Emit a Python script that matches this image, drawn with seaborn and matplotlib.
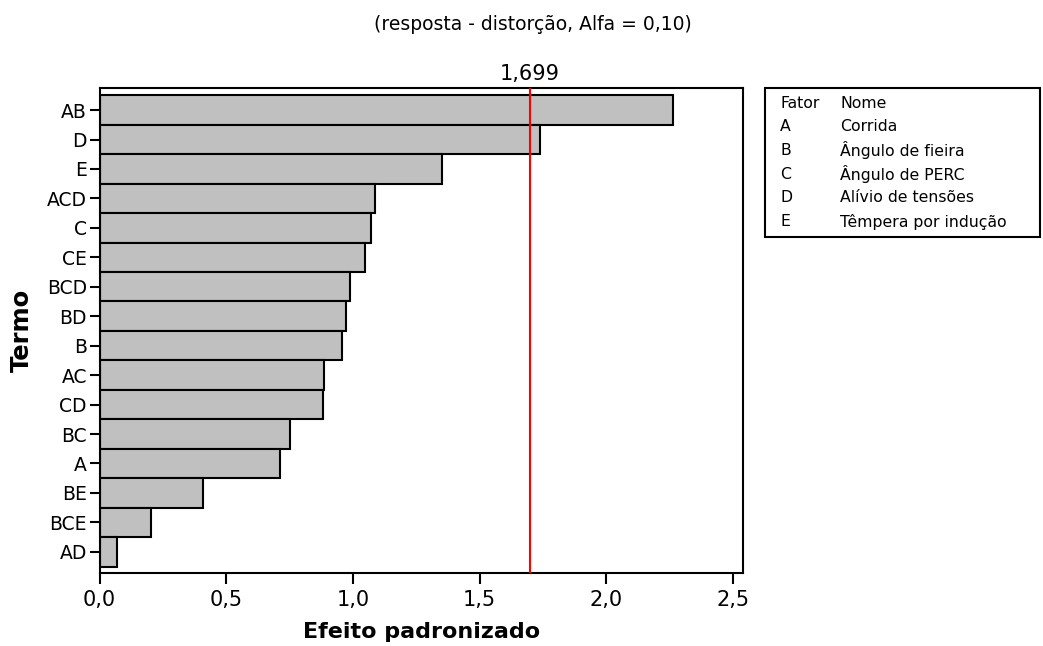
import matplotlib
matplotlib.use("Agg")
import matplotlib.pyplot as plt
from matplotlib.patches import Rectangle
import seaborn as sns
import pandas as pd

# standardized effects
terms = ["AB", "D", "E", "ACD", "C", "CE", "BCD", "BD", "B", "AC",
         "CD", "BC", "A", "BE", "BCE", "AD"]
effects = [2.263, 1.739, 1.352, 1.086, 1.072, 1.048, 0.988, 0.973, 0.957,
           0.888, 0.881, 0.752, 0.714, 0.410, 0.205, 0.068]
critical = 1.699
xticks = [0.0, 0.5, 1.0, 1.5, 2.0, 2.5]
xticklabels = ["0,0", "0,5", "1,0", "1,5", "2,0", "2,5"]

factors = ["A", "B", "C", "D", "E"]
names = ["Corrida", "Ângulo de fieira", "Ângulo de PERC",
         "Alívio de tensões", "Têmpera por indução"]

df = pd.DataFrame({"Termo": terms, "Efeito": effects})

sns.set_style("ticks")
plt.rcParams["font.family"] = ["DejaVu Sans"]
plt.rcParams["text.color"] = "black"
plt.rcParams["axes.labelcolor"] = "black"
plt.rcParams["xtick.color"] = "black"
plt.rcParams["ytick.color"] = "black"

W, H = 1043, 646
fig = plt.figure(figsize=(W / 100, H / 100), dpi=100)
ax = fig.add_axes([99.5 / W, 1 - 573 / H, (743 - 99.5) / W, (573 - 88) / H])

sns.barplot(data=df, x="Efeito", y="Termo", orient="h", order=terms,
            color="#C0C0C0", edgecolor="black", linewidth=1.5,
            width=1.0, saturation=1, ax=ax)

ax.axvline(critical, color="red", lw=1.5, zorder=5)
ax.text(critical, 1.008, "1,699", transform=ax.get_xaxis_transform(),
        ha="center", va="bottom", fontsize=15)

ax.set_xlim(0, 2.54)
ax.set_ylim(15.72, -0.75)
ax.set_xticks(xticks)
ax.set_xticklabels(xticklabels, fontsize=15)
ax.tick_params(axis="y", labelsize=13.5, length=7, width=1.5, pad=2)
ax.tick_params(axis="x", length=8, width=1.5, pad=4)
for s in ax.spines.values():
    s.set_visible(True)
    s.set_linewidth(1.5)
    s.set_color("black")

ax.set_xlabel("Efeito padronizado", fontsize=16, fontweight="bold", labelpad=9)
ax.set_ylabel("Termo", fontsize=17.5, fontweight="bold", labelpad=9)

fig.text(533 / W, 1 - 25 / H, "(resposta - distorção, Alfa = 0,10)",
         ha="center", va="center", fontsize=13.5)

# factor table on the right
fig.patches.append(Rectangle((765 / W, 1 - 237 / H), (1040 - 765) / W,
                             (237 - 88) / H, transform=fig.transFigure,
                             fill=False, edgecolor="black", lw=1.5))
rows = [("Fator", "Nome")] + list(zip(factors, names))
for i, (f, n) in enumerate(rows):
    y = 1 - (103 + 23.7 * i) / H
    fig.text(780 / W, y, f, ha="left", va="center", fontsize=11.3)
    fig.text(840 / W, y, n, ha="left", va="center", fontsize=11.3)

fig.savefig("out.png", dpi=100)
